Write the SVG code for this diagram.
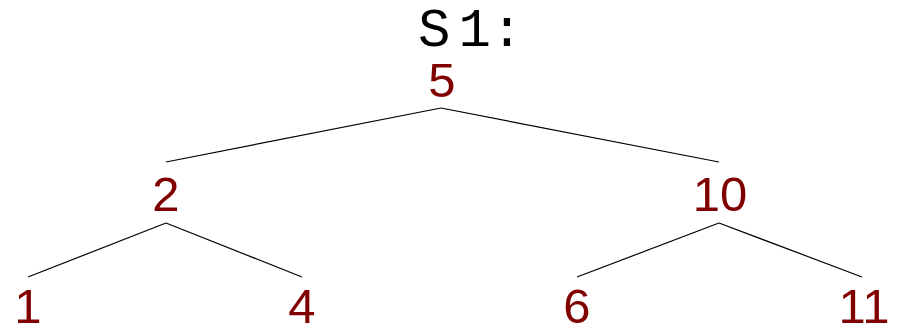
<svg xmlns="http://www.w3.org/2000/svg" width="901" height="334" viewBox="0 0 901 334">
  <style>
    .title { font-family: "Liberation Mono", "DejaVu Sans Mono", monospace; font-size: 54px; fill: #000; }
    .key { font-family: "Liberation Sans", Arial, sans-serif; font-size: 49px; fill: #800000; text-anchor: middle; }
    .edge { stroke: #000; stroke-width: 1.2; fill: none; }
  </style>
  <rect width="901" height="334" fill="#fff"/>
  <text class="title" x="418" y="46" dx="0 8 0">S1:</text>
  <g id="edges">
    <line class="edge" x1="441" y1="108" x2="166" y2="162"/>
    <line class="edge" x1="441" y1="108" x2="719" y2="162"/>
    <line class="edge" x1="166" y1="223" x2="28" y2="277"/>
    <line class="edge" x1="166" y1="223" x2="302" y2="277"/>
    <line class="edge" x1="719" y1="223" x2="577" y2="277"/>
    <line class="edge" x1="719" y1="223" x2="862" y2="277"/>
  </g>
  <g id="n5"><text class="key" x="442" y="97">5</text></g>
  <g id="n2"><text class="key" x="166" y="211">2</text></g>
  <g id="n10"><text class="key" x="720" y="211">10</text></g>
  <g id="n1"><text class="key" x="28" y="323">1</text></g>
  <g id="n4"><text class="key" x="302" y="323">4</text></g>
  <g id="n6"><text class="key" x="577" y="323">6</text></g>
  <g id="n11"><text class="key" x="864" y="323">11</text></g>
</svg>
